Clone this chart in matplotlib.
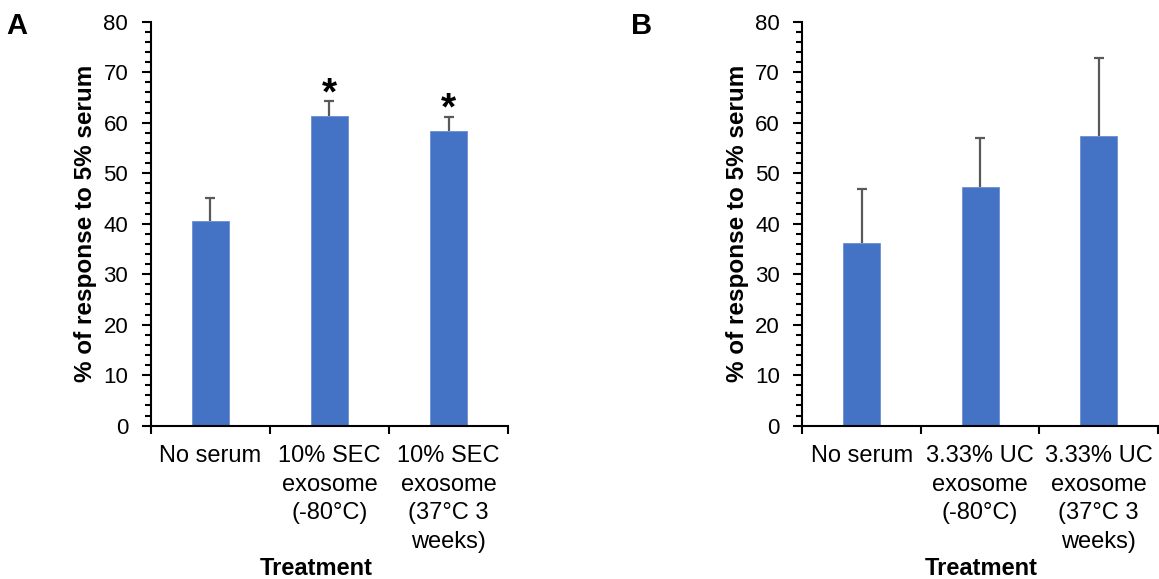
import matplotlib
matplotlib.use("Agg")
import matplotlib.pyplot as plt
from matplotlib.ticker import MultipleLocator, FixedLocator

plt.rcParams['font.family'] = ['Liberation Sans', 'DejaVu Sans']

# Panel A: SEC exosome
cats_a = ["No serum", "10% SEC\nexosome\n(-80°C)", "10% SEC\nexosome\n(37°C 3\nweeks)"]
vals_a = [40.6, 61.4, 58.4]
errs_a = [4.4, 2.9, 2.8]
sig_a = ["", "*", "*"]

# Panel B: UC exosome
cats_b = ["No serum", "3.33% UC\nexosome\n(-80°C)", "3.33% UC\nexosome\n(37°C 3\nweeks)"]
vals_b = [36.2, 47.2, 57.4]
errs_b = [10.6, 9.8, 15.5]
sig_b = ["", "", ""]

BAR_COLOR = "#4472C4"
ERR_COLOR = "#595959"

W, H = 1159, 579
fig = plt.figure(figsize=(W / 100, H / 100), dpi=100)

def px_axes(x0, x1, y0, y1):
    return fig.add_axes([x0 / W, 1 - y1 / H, (x1 - x0) / W, (y1 - y0) / H])

def draw_panel(ax, cats, vals, errs, sig, panel_letter, letter_x, ylabel_x, xlabel_x):
    n = len(cats)
    xs = list(range(n))
    ax.bar(xs, vals, width=0.31, color=BAR_COLOR, edgecolor="#6d8fd0",
           linewidth=0.6, zorder=2)
    eb = ax.errorbar(xs, vals, yerr=[[0] * n, errs], fmt="none", ecolor=ERR_COLOR,
                     elinewidth=1.6, capsize=3.8, capthick=1.6, zorder=3)
    # only the upper whisker gets a cap
    caps = eb[1]
    if len(caps) == 2:
        caps[0].set_visible(False)
    for x, v, e, s in zip(xs, vals, errs, sig):
        if s:
            ax.text(x, v + e - 2.2, s, ha="center", va="bottom",
                    fontsize=28, fontweight="bold", color="black")

    ax.set_xlim(-0.5, n - 0.5)
    ax.set_ylim(0, 80)

    for side in ("top", "right"):
        ax.spines[side].set_visible(False)
    for side in ("left", "bottom"):
        ax.spines[side].set_linewidth(1.5)
        ax.spines[side].set_color("black")

    ax.yaxis.set_major_locator(MultipleLocator(10))
    ax.yaxis.set_minor_locator(MultipleLocator(2))
    ax.tick_params(axis="y", which="major", direction="out", length=6.2,
                   width=1.5, labelsize=16, pad=10)
    ax.tick_params(axis="y", which="minor", direction="out", length=4.0,
                   width=1.5)

    # category boundaries carry the tick marks, centres carry the labels
    ax.xaxis.set_major_locator(FixedLocator([i - 0.5 for i in range(n + 1)]))
    ax.set_xticklabels([""] * (n + 1))
    ax.set_xticks(xs, minor=True)
    ax.set_xticklabels(cats, minor=True, fontsize=17, linespacing=1.38,
                       va="top", ha="center")
    ax.tick_params(axis="x", which="major", direction="out", length=6,
                   width=1.5)
    ax.tick_params(axis="x", which="minor", length=0, pad=14)

    ax.set_ylabel("% of response to 5% serum", fontsize=17.5, fontweight="bold")
    ax.yaxis.set_label_coords(ylabel_x, 0.5)
    ax.set_xlabel("Treatment", fontsize=17, fontweight="bold")
    ax.xaxis.set_label_coords(xlabel_x, -0.324)

    fig.text(letter_x / W, 1 - 12 / H, panel_letter, fontsize=21,
             fontweight="bold", ha="left", va="top")

ax_a = px_axes(150.7, 508.3, 21.7, 425.7)
draw_panel(ax_a, cats_a, vals_a, errs_a, sig_a, "A", 6, -0.150, 0.462)

ax_b = px_axes(802.3, 1158.0, 21.7, 425.7)
draw_panel(ax_b, cats_b, vals_b, errs_b, sig_b, "B", 631, -0.151, 0.504)

fig.savefig("out.png", dpi=100)
